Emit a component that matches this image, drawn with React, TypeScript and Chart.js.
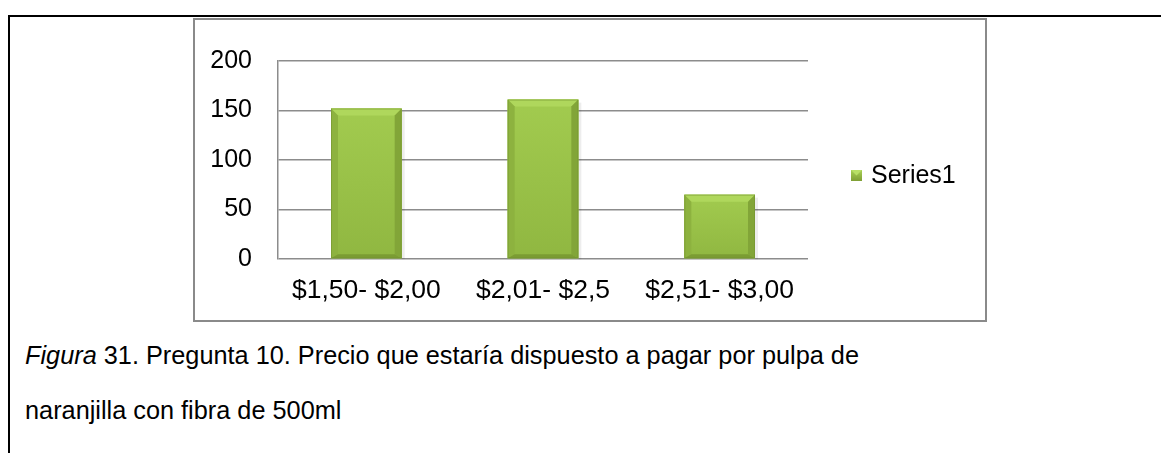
import React, { useEffect, useRef } from "react";
import { Chart, registerables } from "chart.js";

Chart.register(...registerables);

const categories: string[] = ["$1,50- $2,00", "$2,01- $2,5", "$2,51- $3,00"];
const seriesLabel = "Series1";
const series1: number[] = [152, 161, 65];
const yMin = 0;
const yMax = 200;
const yStep = 50;

const FONT = "'Liberation Sans', Arial, sans-serif";

const bevelPlugin = {
  id: "bevelBars",
  afterDatasetsDraw(chart: any) {
    const ctx = chart.ctx;
    const meta = chart.getDatasetMeta(0);
    meta.data.forEach((bar: any) => {
      const p = bar.getProps(["x", "y", "base", "width"], true);
      const l = p.x - p.width / 2;
      const r = p.x + p.width / 2;
      const t = Math.min(p.y, p.base);
      const b = Math.max(p.y, p.base);
      const bv = Math.min(7, (b - t) / 2);
      ctx.save();
      ctx.fillStyle = "rgba(0,0,0,0.07)";
      ctx.fillRect(r, t + 3, 3, b - t - 2);
      const g = ctx.createLinearGradient(0, t, 0, b);
      g.addColorStop(0, "#a2cb4f");
      g.addColorStop(1, "#90b741");
      ctx.fillStyle = g;
      ctx.fillRect(l, t, r - l, b - t);
      const poly = (pts: number[][], color: string) => {
        ctx.beginPath();
        ctx.moveTo(pts[0][0], pts[0][1]);
        for (let i = 1; i < pts.length; i++) ctx.lineTo(pts[i][0], pts[i][1]);
        ctx.closePath();
        ctx.fillStyle = color;
        ctx.fill();
      };
      const bb = Math.min(4, bv);
      poly([[l, t], [r, t], [r - bv, t + bv], [l + bv, t + bv]], "#afd75c");
      poly([[l, t], [l + bv, t + bv], [l + bv, b - bb], [l, b]], "#8db23f");
      poly([[r, t], [r - bv, t + bv], [r - bv, b - bb], [r, b]], "#82a538");
      poly([[l, b], [r, b], [r - bv, b - bb], [l + bv, b - bb]], "#7b9c33");
      ctx.strokeStyle = "rgba(115,145,48,0.55)";
      ctx.lineWidth = 1;
      ctx.strokeRect(l + 0.5, t + 0.5, r - l - 1, b - t - 1);
      ctx.restore();
    });
  },
  afterDraw(chart: any) {
    const ctx = chart.ctx;
    const area = chart.chartArea;
    const ds = chart.data.datasets[0];
    const sx = area.right + 43;
    const cy = (area.top + area.bottom) / 2 + 15.5;
    const s = 11;
    ctx.save();
    const g = ctx.createLinearGradient(0, cy - s / 2, 0, cy + s / 2);
    g.addColorStop(0, "#a8d055");
    g.addColorStop(1, "#7f9f35");
    ctx.fillStyle = g;
    ctx.fillRect(sx, cy - s / 2, s, s);
    ctx.fillStyle = "#b8df66";
    ctx.beginPath();
    ctx.moveTo(sx, cy - s / 2);
    ctx.lineTo(sx + s, cy - s / 2);
    ctx.lineTo(sx + s / 2, cy);
    ctx.closePath();
    ctx.fill();
    ctx.fillStyle = "#000";
    ctx.font = `25px ${FONT}`;
    ctx.textBaseline = "middle";
    ctx.textAlign = "left";
    ctx.fillText(ds.label, sx + s + 9, cy + 1);
    ctx.restore();
  },
};

function ChartBox() {
  const ref = useRef<HTMLCanvasElement | null>(null);
  useEffect(() => {
    if (!ref.current) return;
    const chart = new Chart(ref.current, {
      type: "bar",
      data: {
        labels: categories,
        datasets: [
          {
            label: seriesLabel,
            data: series1,
            backgroundColor: "#97bf47",
            borderWidth: 0,
            barPercentage: 0.4,
            categoryPercentage: 1,
          },
        ],
      },
      plugins: [bevelPlugin],
      options: {
        animation: false,
        responsive: false,
        maintainAspectRatio: false,
        layout: { padding: { top: 28, right: 177, bottom: 0, left: 0 } },
        plugins: {
          legend: { display: false },
          tooltip: { enabled: false },
          title: { display: false },
        },
        scales: {
          x: {
            grid: { display: false, drawTicks: false },
            border: { display: false },
            ticks: {
              color: "#000",
              font: { family: FONT, size: 26.5 },
              padding: 16,
              maxRotation: 0,
            },
            afterFit(scale: any) {
              scale.height = 61;
            },
          },
          y: {
            min: yMin,
            max: yMax,
            ticks: {
              stepSize: yStep,
              color: "#000",
              font: { family: FONT, size: 25 },
              padding: 26,
            },
            grid: { color: "#8c8c8c", lineWidth: 1.5, drawTicks: false },
            border: { display: true, color: "#8c8c8c", width: 1.5 },
            afterFit(scale: any) {
              scale.width = 83;
            },
          },
        },
      },
    } as any);
    return () => chart.destroy();
  }, []);
  return <canvas ref={ref} width={790} height={300} style={{ display: "block" }} />;
}

export default function App() {
  return (
    <div
      style={{
        position: "fixed",
        left: 0,
        top: 0,
        width: 1161,
        height: 453,
        background: "#fff",
        overflow: "hidden",
        fontFamily: FONT,
      }}
    >
      <div style={{ position: "absolute", left: 9, top: 15, width: 1152, height: 2, background: "#000" }} />
      <div style={{ position: "absolute", left: 8, top: 15, width: 2, height: 438, background: "#000" }} />
      <div
        style={{
          position: "absolute",
          left: 193,
          top: 18,
          width: 790,
          height: 300,
          border: "2px solid #8a8a8a",
        }}
      >
        <ChartBox />
      </div>
      <div
        style={{
          position: "absolute",
          left: 25,
          top: 328,
          fontSize: 25.3,
          lineHeight: "55px",
          color: "#000",
          whiteSpace: "nowrap",
        }}
      >
        <div>
          <i>Figura</i> 31. Pregunta 10. Precio que estaría dispuesto a pagar por pulpa de
        </div>
        <div>naranjilla con fibra de 500ml</div>
      </div>
    </div>
  );
}
